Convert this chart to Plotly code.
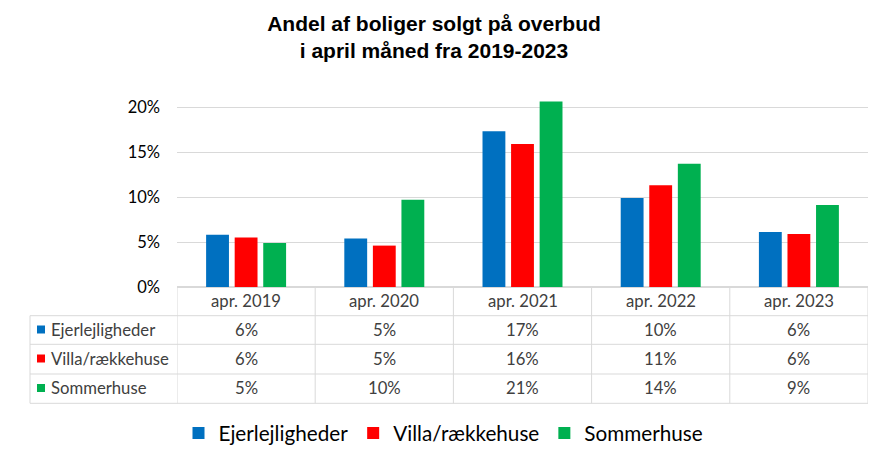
import plotly.graph_objects as go

categories = ["apr. 2019", "apr. 2020", "apr. 2021", "apr. 2022", "apr. 2023"]
series_names = ["Ejerlejligheder", "Villa/rækkehuse", "Sommerhuse"]
ejerlejligheder = [5.8, 5.4, 17.3, 9.9, 6.1]
villa = [5.5, 4.6, 15.9, 11.3, 5.9]
sommerhuse = [4.9, 9.7, 20.6, 13.7, 9.1]
y_ticks = [0, 5, 10, 15, 20]
title_lines = ["Andel af boliger solgt på overbud", "i april måned fra 2019-2023"]

series_values = [ejerlejligheder, villa, sommerhuse]
colors = ["#0070C0", "#FF0000", "#00B050"]

W, H = 887, 462
L, R = 177, 19
TOP_PX, ZERO_PX = 87, 287
plot_h = ZERO_PX - TOP_PX
plot_w = W - L - R
ymax = plot_h / 9.0  # 9 px per percentage point

def py(px):
    return (ZERO_PX - px) / plot_h

def pxx(px):
    return (px - L) / plot_w

fig = go.Figure()
for name, vals, col in zip(series_names, series_values, colors):
    fig.add_trace(go.Bar(
        x=categories, y=vals, name=name,
        marker=dict(color=col, line=dict(width=0)),
    ))

grid = "#D9D9D9"
txt = "#404040"
FONT = "Lato, Carlito, sans-serif"
tfont = dict(family=FONT, size=16.7, color=txt)

shapes = []
annotations = []
header_bottom = 315.7
row_lines = [344.3, 374.0, 403.3]
row_centers = [329.5, 358.5, 388.0]
header_center = 300.5
left_px = 30

for i in range(len(categories) + 1):
    shapes.append(dict(type="line", xref="x", yref="paper",
                       x0=i - 0.5, x1=i - 0.5, y0=0, y1=py(row_lines[-1]),
                       line=dict(color=grid, width=1)))
shapes.append(dict(type="line", xref="paper", yref="paper",
                   x0=pxx(left_px), x1=pxx(left_px), y0=py(header_bottom), y1=py(row_lines[-1]),
                   line=dict(color=grid, width=1)))
for ypx in [header_bottom] + row_lines:
    shapes.append(dict(type="line", xref="paper", yref="paper",
                       x0=pxx(left_px), x1=1, y0=py(ypx), y1=py(ypx),
                       line=dict(color=grid, width=1)))

for i, c in enumerate(categories):
    annotations.append(dict(x=i, y=py(header_center), xref="x", yref="paper",
                            text=c, showarrow=False, font=tfont,
                            xanchor="center", yanchor="middle"))
for r, (name, vals, col) in enumerate(zip(series_names, series_values, colors)):
    yc = py(row_centers[r])
    shapes.append(dict(type="rect", xref="paper", yref="paper",
                       x0=pxx(37), x1=pxx(45), y0=py(row_centers[r] - 4), y1=py(row_centers[r] + 4),
                       fillcolor=col, line=dict(width=0)))
    annotations.append(dict(x=pxx(49), y=yc, xref="paper", yref="paper",
                            text=name, showarrow=False, font=tfont,
                            xanchor="left", yanchor="middle"))
    for i, v in enumerate(vals):
        annotations.append(dict(x=i, y=yc, xref="x", yref="paper",
                                text=f"{round(v)}%", showarrow=False, font=tfont,
                                xanchor="center", yanchor="middle"))

fig.update_layout(
    width=W, height=H,
    margin=dict(l=L, r=R, t=TOP_PX, b=H - ZERO_PX, pad=0),
    paper_bgcolor="white", plot_bgcolor="white",
    barmode="group", bargap=0.38, bargroupgap=0.2,
    title=dict(text="<br>".join(title_lines), x=434 / W, xref="container",
               xanchor="center", y=1 - 31 / H, yanchor="middle",
               font=dict(family="Liberation Sans, Arial, sans-serif", size=21, color="#000000",
                         weight="bold")),
    xaxis=dict(showticklabels=False, showgrid=False, zeroline=False, showline=False,
               ticks="", range=[-0.5, len(categories) - 0.5]),
    yaxis=dict(range=[0, ymax], tickvals=y_ticks, ticktext=[f"{t}%" for t in y_ticks],
               showgrid=True, gridcolor=grid, gridwidth=1, zeroline=True, zerolinecolor=grid,
               showline=False, ticks="", ticklabelstandoff=16,
               tickfont=dict(family=FONT, size=16.5, color="#000000")),
    legend=dict(orientation="h", xref="container", yref="container", x=0.5, xanchor="center",
                y=1 - 433 / H, yanchor="middle",
                font=dict(family=FONT, size=20.7, color="#000000"),
                itemwidth=30, traceorder="normal"),
    shapes=shapes, annotations=annotations,
)

fig.write_html("out.html", config={"displayModeBar": False},
               post_script="document.body.style.margin='0';document.body.style.padding='0';")
